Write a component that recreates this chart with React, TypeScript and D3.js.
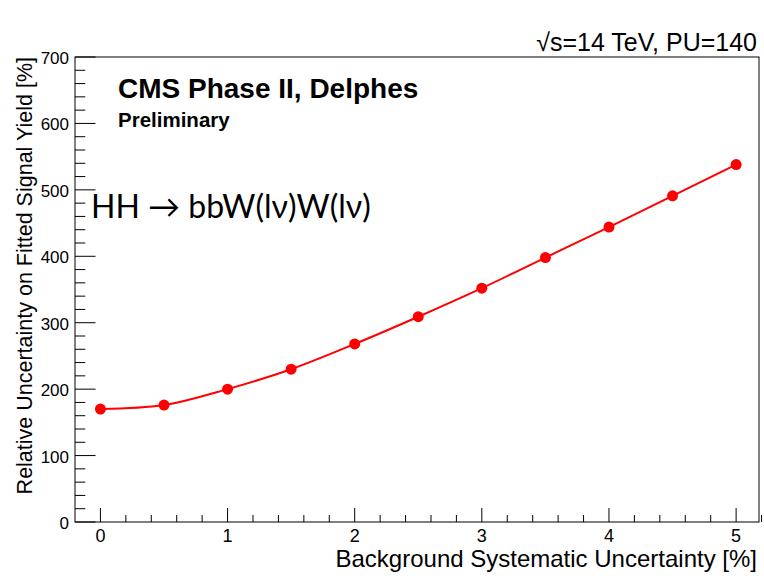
import React from "react";
import * as d3 from "d3";

// Background systematic uncertainty [%] and fitted signal yield uncertainty [%]
const bkgSyst = [0, 0.5, 1, 1.5, 2, 2.5, 3, 3.5, 4, 4.5, 5];
const relUnc = [170, 176, 200, 230, 268, 309, 352, 398, 444, 491, 538];

const xTicks = [0, 1, 2, 3, 4, 5];
const yTicks = [0, 100, 200, 300, 400, 500, 600, 700];

const W = 764,
  H = 576;
const font = "'Liberation Sans', Arial, Helvetica, sans-serif";

const App = () => {
  const frame = { left: 75, right: 759, top: 57, bottom: 522 };

  const x = d3.scaleLinear().domain([-0.2, 5.18]).range([frame.left, frame.right]);
  const y = d3.scaleLinear().domain([0, 700]).range([frame.bottom, frame.top]);

  // ROOT style tick lengths, pointing inside the frame
  const yMajor = 0.03 * (frame.right - frame.left);
  const xMajor = 0.03 * (frame.bottom - frame.top);

  const xMinor = d3.range(0, 5.2001, 0.2).filter(v => !xTicks.some(t => Math.abs(t - v) < 1e-6));
  const yMinor = d3.range(0, 701, 20).filter(v => v % 100 !== 0);

  const line = d3
    .line<number>()
    .x((d, i) => x(bkgSyst[i]))
    .y(d => y(d))
    .curve(d3.curveCatmullRom.alpha(0.5));

  return (
    <svg width={W} height={H} style={{ position: "absolute", left: 0, top: 0, background: "#fff" }}>
      {/* frame */}
      <rect
        x={frame.left}
        y={frame.top}
        width={frame.right - frame.left}
        height={frame.bottom - frame.top}
        fill="none"
        stroke="#000"
        strokeWidth={1}
      />

      {/* y axis ticks */}
      {yTicks.map(t => (
        <g key={"y" + t}>
          <line x1={frame.left} x2={frame.left + yMajor} y1={y(t)} y2={y(t)} stroke="#000" />
          <text x={frame.left - 6} y={y(t) + 7} textAnchor="end" fontFamily={font} fontSize={17}>
            {t}
          </text>
        </g>
      ))}
      {yMinor.map(t => (
        <line key={"ym" + t} x1={frame.left} x2={frame.left + yMajor / 2} y1={y(t)} y2={y(t)} stroke="#000" />
      ))}

      {/* x axis ticks */}
      {xTicks.map(t => (
        <g key={"x" + t}>
          <line x1={x(t)} x2={x(t)} y1={frame.bottom} y2={frame.bottom - xMajor} stroke="#000" />
          <text x={x(t)} y={frame.bottom + 20} textAnchor="middle" fontFamily={font} fontSize={18}>
            {t}
          </text>
        </g>
      ))}
      {xMinor.map(t => (
        <line key={"xm" + t} x1={x(t)} x2={x(t)} y1={frame.bottom} y2={frame.bottom - xMajor / 2} stroke="#000" />
      ))}

      {/* axis titles */}
      <text x={frame.right - 2} y={567} textAnchor="end" fontFamily={font} fontSize={24}>
        Background Systematic Uncertainty [%]
      </text>
      <text
        transform={`translate(32, ${frame.top}) rotate(-90)`}
        textAnchor="end"
        fontFamily={font}
        fontSize={21.5}
      >
        Relative Uncertainty on Fitted Signal Yield [%]
      </text>

      {/* header */}
      <text x={frame.right - 2} y={51} textAnchor="end" fontFamily={font} fontSize={25}>
        √s=14 TeV, PU=140
      </text>
      <text x={118} y={98} fontFamily={font} fontWeight="bold" fontSize={28}>
        CMS Phase II, Delphes
      </text>
      <text x={118} y={127} fontFamily={font} fontWeight="bold" fontSize={20.5}>
        Preliminary
      </text>
      <text x={91} y={218} fontFamily="Lato, 'Open Sans', sans-serif" fontSize={32}>
        HH → bbW(lν)W(lν)
      </text>

      {/* curve and markers */}
      <path d={line(relUnc) || ""} fill="none" stroke="#ff0000" strokeWidth={2} />
      {relUnc.map((v, i) => (
        <circle key={"p" + i} cx={x(bkgSyst[i])} cy={y(v)} r={5.5} fill="#ff0000" />
      ))}
    </svg>
  );
};

export default App;
